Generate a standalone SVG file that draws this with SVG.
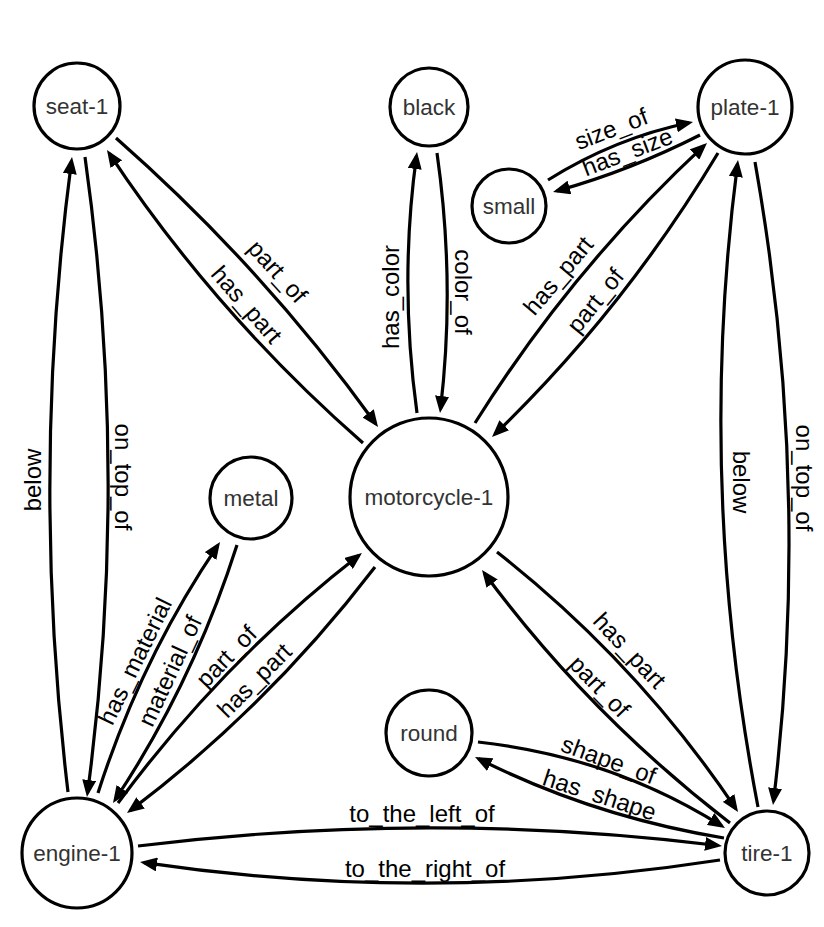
<svg xmlns="http://www.w3.org/2000/svg" width="824" height="927" viewBox="0 0 824 927">
<defs>
<marker id="arr" markerUnits="userSpaceOnUse" markerWidth="17" markerHeight="14" refX="13" refY="7" orient="auto">
<path d="M0,0 L17,7 L0,14 z" fill="#000"/>
</marker>
<style>
.node circle{fill:#fff;stroke:#000;stroke-width:3.2}
.node text{font-family:"Liberation Sans",Arial,sans-serif;font-size:22.5px;fill:#333;text-anchor:middle}
.edge path{fill:none;stroke:#000;stroke-width:3.2;marker-end:url(#arr)}
.edge text{font-family:"Liberation Sans",Arial,sans-serif;font-size:24px;fill:#000;text-anchor:middle}
</style>
</defs>
<rect width="824" height="927" fill="#fff"/>
<g id="connectors">
<g class="edge" id="e-seat-engine"><path d="M85,157 Q130,477 87.5,793"/><text transform="translate(121,477) rotate(90)" y="6">on_top_of</text></g>
<g class="edge" id="e-engine-seat"><path d="M68,792 Q30,475 71.5,161"/><text transform="translate(35,480) rotate(-90)" y="6">below</text></g>
<g class="edge" id="e-seat-moto"><path d="M116,138 Q263.4,267.7 375.7,423.8"/><text transform="translate(276,273) rotate(48)" y="6">part_of</text></g>
<g class="edge" id="e-moto-seat"><path d="M363,443 Q215.4,313.7 109.2,153.3"/><text transform="translate(245,306) rotate(49)" y="6">has_part</text></g>
<g class="edge" id="e-moto-black"><path d="M417,413 Q399,282 416.5,156"/><text transform="translate(393,297) rotate(-90)" y="6">has_color</text></g>
<g class="edge" id="e-black-moto"><path d="M437,153 Q455.5,283 440.5,409"/><text transform="translate(461,292) rotate(90)" y="6">color_of</text></g>
<g class="edge" id="e-small-plate"><path d="M548,180 Q615.3,138 689.1,122.8"/><text transform="translate(612,131) rotate(-21)" y="6">size_of</text></g>
<g class="edge" id="e-plate-small"><path d="M700,135 Q629.3,170.9 556.9,190.9"/><text transform="translate(628,154) rotate(-21)" y="6">has_size</text></g>
<g class="edge" id="e-moto-plate"><path d="M475,423 Q572.5,267.7 704.1,145.7"/><text transform="translate(560,277) rotate(-50)" y="6">has_part</text></g>
<g class="edge" id="e-plate-moto"><path d="M718,153 Q623.8,310 494.9,434.2"/><text transform="translate(597,302) rotate(-51)" y="6">part_of</text></g>
<g class="edge" id="e-tire-plate"><path d="M758,807 Q696,483.5 737.5,164"/><text transform="translate(739,482) rotate(90)" y="6">below</text></g>
<g class="edge" id="e-plate-tire"><path d="M755,162 Q812,483.5 773.5,801"/><text transform="translate(802,478) rotate(90)" y="6">on_top_of</text></g>
<g class="edge" id="e-moto-tire"><path d="M497,552 Q638.1,663 735.8,808.7"/><text transform="translate(628,652) rotate(47)" y="6">has_part</text></g>
<g class="edge" id="e-tire-moto"><path d="M730,823 Q588.3,713.9 484.4,573.2"/><text transform="translate(598,688) rotate(46)" y="6">part_of</text></g>
<g class="edge" id="e-round-tire"><path d="M478,742 Q611.3,756.6 721.6,825.9"/><text transform="translate(608,762) rotate(20)" y="6">shape_of</text></g>
<g class="edge" id="e-tire-round"><path d="M724,838 Q593.3,816.5 478.6,758.8"/><text transform="translate(599,797) rotate(18)" y="6">has_shape</text></g>
<g class="edge" id="e-engine-tire"><path d="M138,846 Q430,810 718,845.5"/><text x="422" y="822">to_the_left_of</text></g>
<g class="edge" id="e-tire-engine"><path d="M720,860 Q430,905 144,862.6"/><text x="425" y="877">to_the_right_of</text></g>
<g class="edge" id="e-engine-metal"><path d="M98,793 Q141,658.7 217.8,545.3"/><text transform="translate(137,662) rotate(-64)" y="6">has_material</text></g>
<g class="edge" id="e-metal-engine"><path d="M237,545 Q193,682.6 115.2,799.7"/><text transform="translate(172,672) rotate(-65)" y="6">material_of</text></g>
<g class="edge" id="e-engine-moto"><path d="M118,803 Q222.8,661.2 358.8,555.5"/><text transform="translate(228,658) rotate(-46)" y="6">part_of</text></g>
<g class="edge" id="e-moto-engine"><path d="M375,567 Q267.9,707 130.2,810.6"/><text transform="translate(256,682) rotate(-45)" y="6">has_part</text></g>
</g>
<g class="node" id="seat-1"><circle cx="77" cy="106" r="43"/><text x="77" y="114">seat-1</text></g>
<g class="node" id="black"><circle cx="429" cy="107" r="39"/><text x="429" y="115">black</text></g>
<g class="node" id="plate-1"><circle cx="745" cy="107" r="47"/><text x="745" y="115">plate-1</text></g>
<g class="node" id="small"><circle cx="509" cy="206" r="37"/><text x="509" y="214">small</text></g>
<g class="node" id="metal"><circle cx="251" cy="498" r="41"/><text x="251" y="506">metal</text></g>
<g class="node" id="motorcycle-1"><circle cx="429" cy="497" r="79"/><text x="429" y="505">motorcycle-1</text></g>
<g class="node" id="round"><circle cx="429" cy="733" r="43"/><text x="429" y="741">round</text></g>
<g class="node" id="engine-1"><circle cx="77" cy="853" r="55"/><text x="77" y="861">engine-1</text></g>
<g class="node" id="tire-1"><circle cx="767" cy="853" r="42"/><text x="767" y="861">tire-1</text></g>
</svg>
